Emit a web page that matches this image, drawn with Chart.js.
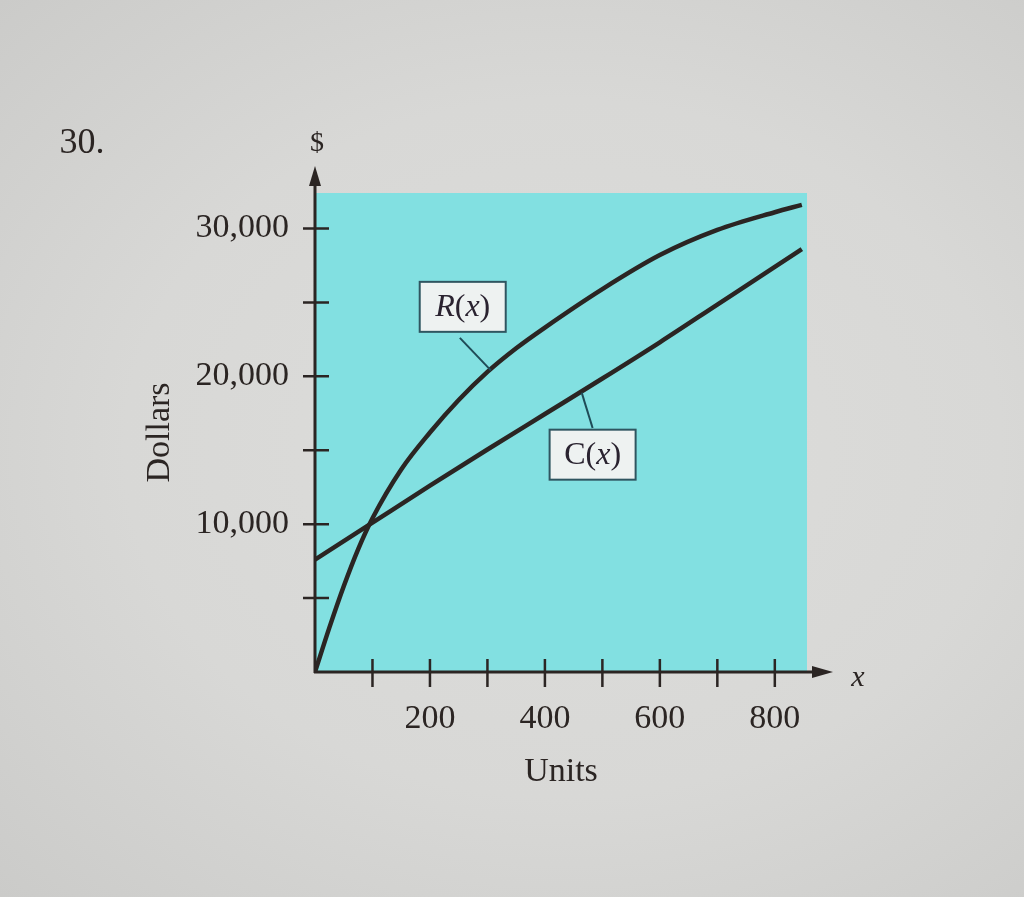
<!DOCTYPE html>
<html>
<head>
<meta charset="utf-8">
<script src="https://cdn.jsdelivr.net/npm/chart.js@4/dist/chart.umd.min.js"></script>
<style>
  html, body { margin: 0; padding: 0; }
  body {
    width: 1024px; height: 897px; overflow: hidden;
    background: radial-gradient(ellipse at 55% 50%, #dddddb 0%, #d8d8d6 55%, #cbcbc9 100%);
  }
  canvas { display: block; }
</style>
</head>
<body>
<canvas id="chart" width="1024" height="897"></canvas>
<script>
// units produced (x) and dollar values
const revenueUnits = [0, 25, 50, 75, 100, 150, 200, 250, 300, 350, 400, 500, 600, 700, 800, 847]
const revenueDollars = [0, 3000, 5800, 8300, 10400, 13700, 16200, 18400, 20300, 21900, 23300, 25900, 28200, 29900, 31100, 31600]

const costUnits = [0, 100, 200, 300, 400, 500, 600, 700, 800, 847]
const costDollars = [7600, 10100, 12600, 15050, 17450, 19850, 22300, 24850, 27400, 28600]

// tick marks and labelled ticks
const xTicks = [100, 200, 300, 400, 500, 600, 700, 800]
const xLabels = [200, 400, 600, 800]
const yTicks = [5000, 10000, 15000, 20000, 25000, 30000]
const yLabels = [10000, 20000, 30000]

const serif = '"Liberation Serif", "DejaVu Serif", serif'
const ink = '#2b2523'

const toPoints = (xs, ys) => xs.map((x, i) => ({ x: x, y: ys[i] }))

// draws the cyan panel, axes with arrows, crossing tick marks, and the R(x)/C(x) callouts
const textbookPlugin = {
    id: 'textbook',
    beforeDraw(chart) {
        const { ctx, chartArea: a } = chart
        ctx.save()
        ctx.fillStyle = '#82e0e1'
        ctx.fillRect(a.left, a.top, a.right - a.left, a.bottom - a.top)
        ctx.restore()
    },
    beforeDatasetsDraw(chart) {
        const { ctx, chartArea: a, scales } = chart
        const xs = scales.x, ys = scales.y
        ctx.save()
        ctx.strokeStyle = ink
        ctx.fillStyle = ink
        ctx.lineWidth = 3

        // axes
        ctx.beginPath()
        ctx.moveTo(a.left, a.bottom + 1)
        ctx.lineTo(a.left, 182)
        ctx.moveTo(a.left - 1, a.bottom)
        ctx.lineTo(820, a.bottom)
        ctx.stroke()

        // arrow heads
        ctx.beginPath()
        ctx.moveTo(a.left, 166)
        ctx.lineTo(a.left - 6, 186)
        ctx.lineTo(a.left + 6, 186)
        ctx.closePath()
        ctx.fill()
        ctx.beginPath()
        ctx.moveTo(833, a.bottom)
        ctx.lineTo(812, a.bottom - 6)
        ctx.lineTo(812, a.bottom + 6)
        ctx.closePath()
        ctx.fill()

        // tick marks crossing the axes
        ctx.lineWidth = 2.5
        ctx.beginPath()
        yTicks.forEach(v => {
            const py = ys.getPixelForValue(v)
            ctx.moveTo(a.left - 12, py)
            ctx.lineTo(a.left + 14, py)
        })
        xTicks.forEach(v => {
            const px = xs.getPixelForValue(v)
            ctx.moveTo(px, a.bottom - 13)
            ctx.lineTo(px, a.bottom + 15)
        })
        ctx.stroke()

        // problem number, $ and x
        ctx.textAlign = 'center'
        ctx.textBaseline = 'middle'
        ctx.font = '36px ' + serif
        ctx.fillText('30.', 82, 144)
        ctx.font = '28px ' + serif
        ctx.fillText('$', a.left + 2, 144)
        ctx.font = 'italic 30px ' + serif
        ctx.fillText('x', 858, a.bottom + 6)
        ctx.restore()
    },
    afterDatasetsDraw(chart) {
        const { ctx, scales } = chart
        const xs = scales.x, ys = scales.y

        // callout: [parts, box centre (units, dollars), leader start, leader end on curve]
        const callouts = [
            { parts: [['R', true], ['(', false], ['x', true], [')', false]], at: [257, 24700], from: [252, 22600], to: [306, 20400] },
            { parts: [['C', false], ['(', false], ['x', true], [')', false]], at: [483, 14700], from: [483, 16500], to: [464, 18900] }
        ]

        ctx.save()
        callouts.forEach(c => {
            ctx.strokeStyle = '#1f4b57'
            ctx.lineWidth = 2
            ctx.beginPath()
            ctx.moveTo(xs.getPixelForValue(c.from[0]), ys.getPixelForValue(c.from[1]))
            ctx.lineTo(xs.getPixelForValue(c.to[0]), ys.getPixelForValue(c.to[1]))
            ctx.stroke()

            const cx = xs.getPixelForValue(c.at[0])
            const cy = ys.getPixelForValue(c.at[1])
            const w = 86, h = 50
            ctx.fillStyle = '#eef2f1'
            ctx.fillRect(cx - w / 2, cy - h / 2, w, h)
            ctx.strokeStyle = '#2f5560'
            ctx.strokeRect(cx - w / 2, cy - h / 2, w, h)

            // measure the pieces then draw them side by side
            let total = 0
            const widths = c.parts.map(p => {
                ctx.font = (p[1] ? 'italic ' : '') + '32px ' + serif
                const wd = ctx.measureText(p[0]).width
                total += wd
                return wd
            })
            let px = cx - total / 2
            ctx.fillStyle = '#2a2330'
            ctx.textBaseline = 'middle'
            ctx.textAlign = 'left'
            c.parts.forEach((p, i) => {
                ctx.font = (p[1] ? 'italic ' : '') + '32px ' + serif
                ctx.fillText(p[0], px, cy + 1)
                px += widths[i]
            })
        })
        ctx.restore()
    }
}

const ctx = document.querySelector('#chart')
const myChart = new Chart(ctx, {
    type: 'scatter',
    data: {
        datasets: [
            {
                label: 'R(x)',
                data: toPoints(revenueUnits, revenueDollars),
                showLine: true,
                borderColor: ink,
                borderWidth: 4.5,
                pointRadius: 0,
                cubicInterpolationMode: 'monotone'
            },
            {
                label: 'C(x)',
                data: toPoints(costUnits, costDollars),
                showLine: true,
                borderColor: ink,
                borderWidth: 4.5,
                pointRadius: 0,
                cubicInterpolationMode: 'monotone'
            }
        ]
    },
    options: {
        responsive: false,
        animation: false,
        devicePixelRatio: 1,
        layout: { padding: { left: 0, top: 193, right: 217, bottom: 0 } },
        plugins: {
            legend: { display: false },
            tooltip: { enabled: false }
        },
        scales: {
            x: {
                type: 'linear',
                min: 0,
                max: 856,
                afterFit: s => { s.height = 225 },
                afterBuildTicks: s => { s.ticks = xLabels.map(v => ({ value: v })) },
                grid: { display: false, drawTicks: false },
                border: { display: false },
                ticks: {
                    autoSkip: false,
                    maxRotation: 0,
                    padding: 27,
                    color: ink,
                    font: { family: serif, size: 34 },
                    callback: v => String(v)
                },
                title: {
                    display: true,
                    text: 'Units',
                    color: ink,
                    font: { family: serif, size: 34 },
                    padding: { top: 0, bottom: 105 }
                }
            },
            y: {
                type: 'linear',
                min: 0,
                max: 32400,
                afterFit: s => { s.width = 315 },
                afterBuildTicks: s => { s.ticks = yLabels.map(v => ({ value: v })) },
                grid: { display: false, drawTicks: false },
                border: { display: false },
                ticks: {
                    autoSkip: false,
                    padding: 26,
                    color: ink,
                    font: { family: serif, size: 34 },
                    callback: v => v.toLocaleString('en-US')
                },
                title: {
                    display: true,
                    text: 'Dollars',
                    color: ink,
                    font: { family: serif, size: 34 },
                    padding: { top: 140, bottom: 0 }
                }
            }
        }
    },
    plugins: [textbookPlugin]
});
</script>
</body>
</html>
